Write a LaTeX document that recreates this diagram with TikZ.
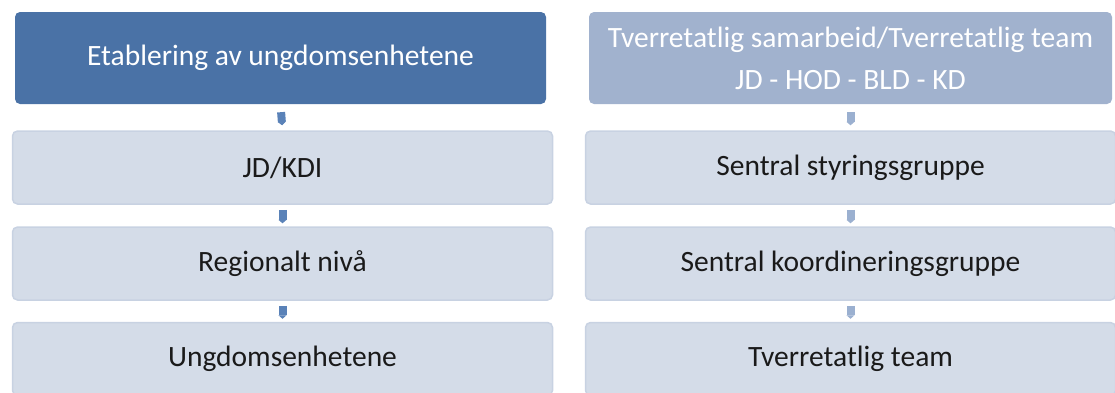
\documentclass[tikz,border=0pt]{standalone}
\usepackage{fontspec}
\setmainfont{Carlito}
\usetikzlibrary{arrows.meta}
\definecolor{darkb}{HTML}{4A72A6}
\definecolor{midb}{HTML}{A1B2CE}
\definecolor{lightb}{HTML}{D4DCE8}
\definecolor{lightedge}{HTML}{C8D2E2}
\definecolor{arrL}{HTML}{5A82B8}
\definecolor{arrR}{HTML}{9BB0D0}
\definecolor{txt}{HTML}{1A1A1A}
\tikzset{
  headbox/.style={rounded corners=5pt, text=white, align=center, font=\fontsize{29.5}{42}\selectfont},
  lightbox/.style={rounded corners=5pt, fill=lightb, draw=lightedge, line width=1.5pt, text=txt, font=\fontsize{29.5}{34}\selectfont, minimum height=73pt},
  blockarrow/.style={line width=8pt, -{Triangle[width=8pt,length=3.5pt]}},
}
\begin{document}
\begin{tikzpicture}[x=1pt,y=-1pt]
\useasboundingbox (0,0) rectangle (1115,392);
% left column
\node[headbox, fill=darkb, minimum width=531pt, minimum height=92pt] (L0) at (280.5,58) {Etablering av ungdomsenhetene};
\node[lightbox, minimum width=540pt] (L1) at (282.5,167.5) {JD/KDI};
\node[lightbox, minimum width=540pt] (L2) at (282.5,263.5) {Regionalt nivå};
\node[lightbox, minimum width=540pt] (L3) at (282.5,359) {Ungdomsenhetene};
% right column
\node[headbox, fill=midb, minimum width=523pt, minimum height=92pt] (R0) at (850.5,58) {Tverretatlig samarbeid/Tverretatlig team\\JD - HOD - BLD - KD};
\node[lightbox, minimum width=530pt] (R1) at (850.5,167.5) {Sentral styringsgruppe};
\node[lightbox, minimum width=530pt] (R2) at (850.5,263.5) {Sentral koordineringsgruppe};
\node[lightbox, minimum width=530pt] (R3) at (850.5,359) {Tverretatlig team};
% connectors
\draw[blockarrow, arrL, shorten <=8pt, shorten >=5pt] (L0.south) -- (L1.north);
\draw[blockarrow, arrR, shorten <=8pt, shorten >=5pt] (R0.south) -- (R1.north);
\foreach \a/\b in {L1/L2,L2/L3}{
  \draw[blockarrow, arrL, shorten <=5pt, shorten >=3pt] (\a.south) -- (\b.north);
}
\foreach \a/\b in {R1/R2,R2/R3}{
  \draw[blockarrow, arrR, shorten <=5pt, shorten >=3pt] (\a.south) -- (\b.north);
}
\end{tikzpicture}
\end{document}
